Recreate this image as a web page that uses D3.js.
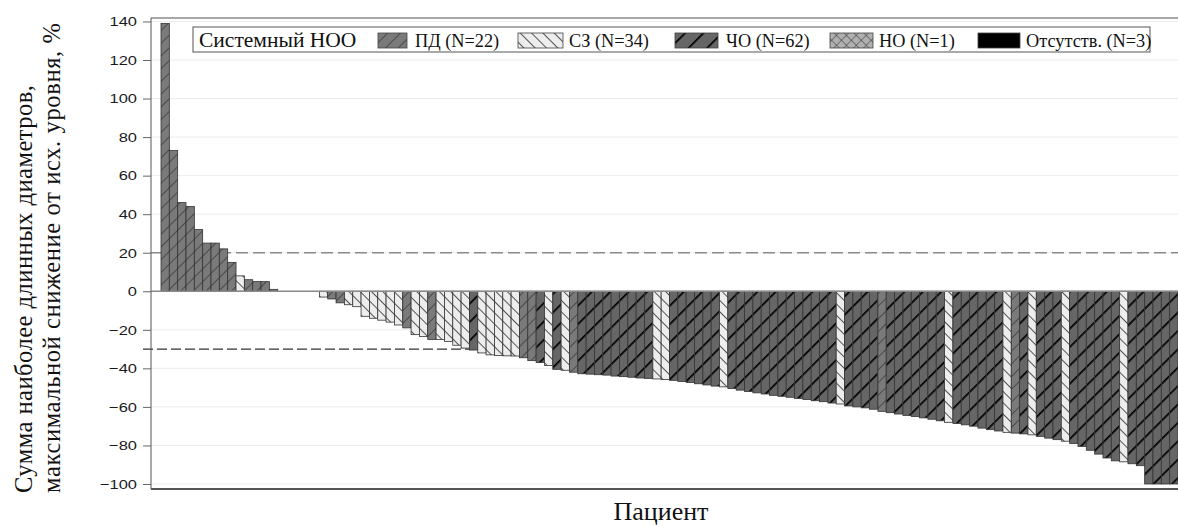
<!DOCTYPE html>
<html lang="ru">
<head>
<meta charset="UTF-8" />
<title>Waterfall</title>
<script src="https://d3js.org/d3.v7.min.js"></script>
<style>
  body { margin: 0; background: #fff; }
  svg { display: block; }
  .serif { font-family: "Liberation Serif", "Times New Roman", serif; fill: #111; }
  .tick text { font-family: "Liberation Sans", Arial, sans-serif; font-size: 13.5px; fill: #1a1a1a; }
</style>
</head>
<body>
<svg id="chart" width="1178" height="526"></svg>
<script>
// best % change per patient, sorted as in the waterfall
const values = [
  139, 73, 46, 44, 32, 25, 25, 22, 15, 8, 6, 5, 5, 1,
  0, 0, 0, 0, 0,
  -3, -4, -6, -7, -8, -13, -14, -15, -16, -17.5, -19, -22.5, -23.5, -25, -25, -26, -28, -29.5,
  -30.5, -32, -33, -33.3, -33.5, -33.6, -34.5, -36, -37, -38.5, -40.5, -41, -42,
  -42.8, -43, -43.3, -43.5, -44, -44.3, -44.6, -45, -45.2, -45.5, -45.8,
  -46.2, -46.8, -47.3, -48, -48.6, -49.2, -49.6,
  -50.5, -51.3, -52, -52.7, -53.3, -54, -54.5, -55, -55.6, -56.2, -56.8, -57.3, -58, -58.5,
  -59.5, -60, -60.5, -61.2, -62.3, -63, -63.7, -64.4, -65, -65.7, -66.4, -67.2, -68,
  -68.6, -69.3, -70, -71, -71.8, -72.5, -73.2, -73.6, -74, -74.5, -75.3, -76.2, -77, -77.8,
  -79, -80.5, -82.5, -84.5, -86.5, -88, -88.5, -89.5, -90.5, -100, -100, -100, -100
];

// best overall response per patient (same order)
const response = [
  "ПД","ПД","ПД","ПД","ПД","ПД","ПД","ПД","ПД","СЗ","ПД","ПД","ПД","ПД",
  "СЗ","НО","Отс","Отс","Отс",
  "СЗ","ПД","ПД","СЗ","СЗ","СЗ","СЗ","СЗ","СЗ","СЗ","ПД","СЗ","СЗ","ПД","СЗ","СЗ","СЗ","СЗ",
  "ЧО","СЗ","СЗ","СЗ","СЗ","СЗ","ПД","ПД","ЧО","СЗ","ЧО","СЗ","ПД",
  "ЧО","ЧО","ЧО","ЧО","ЧО","ЧО","ЧО","ЧО","ЧО","СЗ","СЗ",
  "ЧО","ЧО","ЧО","ЧО","ЧО","ЧО","СЗ",
  "ЧО","ЧО","ЧО","ЧО","ЧО","ЧО","ЧО","ЧО","ЧО","ЧО","ЧО","ЧО","ЧО","СЗ",
  "ЧО","ЧО","ЧО","ЧО","ПД","ЧО","ЧО","ЧО","ЧО","ЧО","ЧО","ЧО","СЗ",
  "ЧО","ЧО","ЧО","ЧО","ЧО","ЧО","СЗ","ПД","ЧО","СЗ","ЧО","ЧО","ЧО","СЗ",
  "ЧО","ЧО","ЧО","ЧО","ЧО","ЧО","СЗ","ЧО","ЧО","ЧО","ЧО","ЧО","ЧО"
];

const groupKeys = ["ПД", "СЗ", "ЧО", "НО", "Отс"];
const legendLabels = ["ПД (N=22)", "СЗ (N=34)", "ЧО (N=62)", "НО (N=1)", "Отсутств. (N=3)"];
const legendTitle = "Системный НОО";
const yTicks = [140, 120, 100, 80, 60, 40, 20, 0, -20, -40, -60, -80, -100];
const refLines = [20, -30];
const yTitle = ["Сумма наиболее длинных диаметров,", "максимальной снижение от исх. уровня, %"];
const xTitle = "Пациент";

const svg = d3.select("#chart");
const plotL = 151, plotR = 1178, plotT = 18, plotB = 489;

const x = d3.scaleBand().domain(values.map((d, i) => i)).range([161, 1178]).padding(0);
const y = d3.scaleLinear().domain([-102.6, 141.8]).range([plotB, plotT]);

// patterns
const defs = svg.append("defs");
function hatch(id, bg, color, sw, gap, angle) {
  const p = defs.append("pattern").attr("id", id)
    .attr("patternUnits", "userSpaceOnUse")
    .attr("width", gap).attr("height", gap)
    .attr("patternTransform", `rotate(${angle})`);
  p.append("rect").attr("width", gap).attr("height", gap).attr("fill", bg);
  p.append("line").attr("x1", 0).attr("y1", 0).attr("x2", 0).attr("y2", gap)
    .attr("stroke", color).attr("stroke-width", sw);
  return p;
}
hatch("p-PD", "#7a7a7a", "#1a1a1a", 1, 9, 45);
hatch("p-SD", "#ededed", "#2a2a2a", 1.6, 8, -45);
hatch("p-PR", "#666", "#000", 3.4, 13, 45);
const cross = hatch("p-NE", "#b0b0b0", "#333", 1, 7, 45);
cross.append("line").attr("x1", 0).attr("y1", 0).attr("x2", 7).attr("y2", 0)
  .attr("stroke", "#333").attr("stroke-width", 1);

const fillOf = {"ПД": "url(#p-PD)", "СЗ": "url(#p-SD)", "ЧО": "url(#p-PR)", "НО": "url(#p-NE)", "Отс": "#000"};

// gridlines
svg.append("g").selectAll("line").data(yTicks).join("line")
  .attr("x1", plotL).attr("x2", plotR)
  .attr("y1", d => y(d)).attr("y2", d => y(d))
  .attr("stroke", "#ececec").attr("stroke-width", 1);

// reference lines (behind bars)
svg.append("line").attr("x1", plotL).attr("x2", plotR)
  .attr("y1", y(refLines[0])).attr("y2", y(refLines[0]))
  .attr("stroke", "#8a8a8a").attr("stroke-width", 1.6).attr("stroke-dasharray", "12,5");
svg.append("line").attr("x1", 143).attr("x2", plotR)
  .attr("y1", y(refLines[1])).attr("y2", y(refLines[1]))
  .attr("stroke", "#333").attr("stroke-width", 1.2).attr("stroke-dasharray", "10,4");

// bars
svg.append("g").selectAll("rect").data(values).join("rect")
  .attr("x", (d, i) => x(i))
  .attr("width", x.bandwidth())
  .attr("y", d => y(Math.max(0, d)))
  .attr("height", d => Math.abs(y(d) - y(0)))
  .attr("fill", (d, i) => fillOf[response[i]])
  .attr("stroke", "#333").attr("stroke-width", 0.8);

// zero line and frame
svg.append("line").attr("x1", plotL).attr("x2", plotR).attr("y1", y(0)).attr("y2", y(0))
  .attr("stroke", "#8a8a8a").attr("stroke-width", 1.6);
svg.append("line").attr("x1", plotL).attr("x2", plotR).attr("y1", plotT).attr("y2", plotT)
  .attr("stroke", "#8a8a8a").attr("stroke-width", 1.5);
svg.append("line").attr("x1", plotL).attr("x2", plotR).attr("y1", plotB).attr("y2", plotB)
  .attr("stroke", "#555").attr("stroke-width", 2);

// y axis (labels in the source are horizontally wide, so stretch them a bit)
const sx = 1.22;
const yAxis = svg.append("g").attr("transform", `translate(${plotL},0)`)
  .call(d3.axisLeft(y).tickValues(yTicks).tickSize(8).tickPadding(5));
yAxis.select(".domain").attr("stroke", "#555").attr("d", `M0,${plotT}V${plotB}`);
yAxis.selectAll(".tick line").attr("stroke", "#666");
yAxis.selectAll(".tick text").attr("x", -14 / sx).attr("transform", `scale(${sx},1)`);

// legend
const lg = svg.append("g");
lg.append("rect").attr("x", 193).attr("y", 27).attr("width", 957).attr("height", 25)
  .attr("fill", "#fff").attr("stroke", "#555").attr("stroke-width", 1);
lg.append("text").attr("class", "serif").attr("x", 199).attr("y", 46.5)
  .attr("font-size", 21.5).text(legendTitle);
const swX = [378, 518, 675, 830, 978];
const swW = [29, 45, 43, 43, 42];
const txX = [415, 569, 726, 879, 1026];
groupKeys.forEach((k, i) => {
  lg.append("rect").attr("x", swX[i]).attr("y", 33).attr("width", swW[i]).attr("height", 15)
    .attr("fill", fillOf[k]).attr("stroke", "#444").attr("stroke-width", 0.8);
  lg.append("text").attr("class", "serif").attr("x", txX[i]).attr("y", 46.5)
    .attr("font-size", 18.3).text(legendLabels[i]);
});

// axis titles
svg.append("text").attr("class", "serif").attr("font-size", 24.5)
  .attr("transform", "translate(32,493) rotate(-90)")
  .attr("textLength", 408).attr("lengthAdjust", "spacing").text(yTitle[0]);
svg.append("text").attr("class", "serif").attr("font-size", 24.5)
  .attr("transform", "translate(60,493) rotate(-90)")
  .attr("textLength", 470).attr("lengthAdjust", "spacing").text(yTitle[1]);
svg.append("text").attr("class", "serif").attr("font-size", 26)
  .attr("x", 661).attr("y", 520).attr("text-anchor", "middle").text(xTitle);
</script>
</body>
</html>
